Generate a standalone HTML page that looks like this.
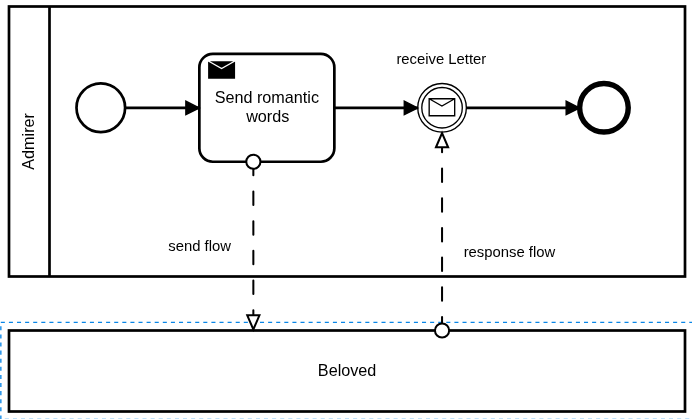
<!DOCTYPE html>
<html><head><meta charset="utf-8"><style>
html,body{margin:0;padding:0;background:#fff;width:692px;height:419px;overflow:hidden}
svg{display:block;will-change:transform}
text{font-family:"Liberation Sans",sans-serif;fill:#000}
</style></head><body>
<svg width="692" height="419" viewBox="0 0 692 419">
<rect x="0" y="0" width="692" height="419" fill="#fff"/>
<g transform="translate(9 6.5) scale(1.35)">
  <!-- Admirer pool -->
  <rect x="0" y="0" width="500.74" height="200" fill="#fff" stroke="#000" stroke-width="2"/>
  <path d="M30,0 L30,200" stroke="#000" stroke-width="2" fill="none"/>
  <text transform="translate(18.7 99.9) rotate(-90)" text-anchor="middle" font-size="12">Admirer</text>

  <!-- start event -->
  <circle cx="68" cy="75" r="18" fill="#fff" stroke="#000" stroke-width="2"/>
  <!-- task -->
  <rect x="141" y="35.15" width="100" height="79.85" rx="10" ry="10" fill="#fff" stroke="#000" stroke-width="2"/>
  <path d="m 146.985,39.998 l 0,14 l 21,0 l 0,-14 z l 10.5,6 l 10.5,-6" fill="#000" stroke="#fff" stroke-width="1"/>
  <text text-anchor="middle" font-size="12"><tspan x="191" y="71.55">Send romantic</tspan><tspan x="191.67" y="85.35">words</tspan></text>

  <!-- intermediate catch message event -->
  <circle cx="320.78" cy="75" r="18" fill="#fff" stroke="#000" stroke-width="1"/>
  <circle cx="320.78" cy="75" r="15" fill="none" stroke="#000" stroke-width="1"/>
  <path d="m 311.24,68.34 l 0,12.6 l 18.9,0 l 0,-12.6 z l 9.45,5.4 l 9.45,-5.4" fill="#fff" stroke="#000" stroke-width="1"/>
  <text x="320.26" y="42.6" text-anchor="middle" font-size="11">receive Letter</text>

  <!-- end event -->
  <circle cx="440.7" cy="75" r="18" fill="#fff" stroke="#000" stroke-width="4"/>

  <!-- sequence flows -->
  <path d="M86,75.15 L141,75.15" stroke="#000" stroke-width="2" fill="none" stroke-linejoin="round"/>
  <path d="M131,70.15 L141,75.15 L131,80.15 Z" fill="#000" stroke="#000" stroke-width="1" stroke-linecap="round"/>
  <path d="M241,75.15 L302.78,75.15" stroke="#000" stroke-width="2" fill="none" stroke-linejoin="round"/>
  <path d="M292.78,70.15 L302.78,75.15 L292.78,80.15 Z" fill="#000" stroke="#000" stroke-width="1" stroke-linecap="round"/>
  <path d="M338.78,75.15 L422.7,75.15" stroke="#000" stroke-width="2" fill="none" stroke-linejoin="round"/>
  <path d="M412.7,70.15 L422.7,75.15 L412.7,80.15 Z" fill="#000" stroke="#000" stroke-width="1" stroke-linecap="round"/>

  <!-- Beloved pool -->
  <rect x="0" y="240" width="500.74" height="60" fill="#fff" stroke="#000" stroke-width="2"/>
  <text x="250.45" y="274.0" text-anchor="middle" font-size="12">Beloved</text>
</g>
<!-- selection outline (px) -->
<g stroke="#0a86e6" stroke-width="1.35" fill="none">
  <path d="M0.8,322.35 L692,322.35" stroke-dasharray="4.05 4.05"/>
  <path d="M0.85,326.3 L0.85,419" stroke-dasharray="4.05 4.05"/>
  <path d="M4.8,419.4 L692,419.4" stroke-dasharray="4.05 4.05" stroke-dashoffset="0"/>
</g>
<g transform="translate(9 6.5) scale(1.35)">
  <!-- message flows -->
  <path d="M181,115 L181,240" stroke="#000" stroke-width="1.5" fill="none" stroke-dasharray="10 12" stroke-linecap="round" stroke-linejoin="round"/>
  <circle cx="181" cy="115" r="5.25" fill="#fff" stroke="#000" stroke-width="1.5"/>
  <path d="M176.5,228.75 L181,239.25 L185.5,228.75 Z" fill="#fff" stroke="#000" stroke-width="1.5"/>
  <path d="M320.78,240 L320.78,93" stroke="#000" stroke-width="1.5" fill="none" stroke-dasharray="10 12" stroke-linecap="round" stroke-linejoin="round"/>
  <circle cx="320.78" cy="240" r="5.25" fill="#fff" stroke="#000" stroke-width="1.5"/>
  <path d="M316.28,104.25 L320.78,93.75 L325.28,104.25 Z" fill="#fff" stroke="#000" stroke-width="1.5"/>
  <text x="141.2" y="180.9" text-anchor="middle" font-size="11">send flow</text>
  <text x="370.7" y="185.4" text-anchor="middle" font-size="11">response flow</text>
</g>
</svg>
</body></html>
